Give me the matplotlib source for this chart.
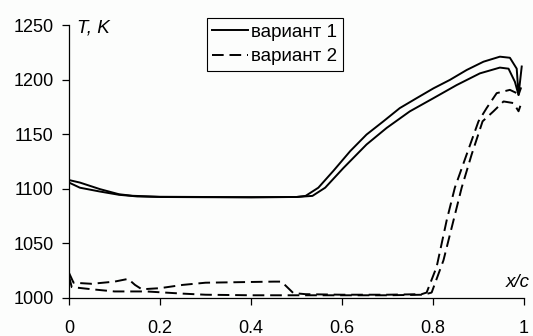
import matplotlib
matplotlib.use('Agg')
import matplotlib.pyplot as plt

# variant 1 (solid), two surfaces
x_v1_upper = [0.0, 0.024, 0.068, 0.11, 0.14, 0.2, 0.3, 0.4, 0.5, 0.52, 0.548, 0.581, 0.618,
              0.654, 0.691, 0.727, 0.764, 0.801, 0.837, 0.874, 0.911, 0.947, 0.969,
              0.984, 0.988, 0.995]
t_v1_upper = [1108, 1105.7, 1099.7, 1095, 1093.6, 1092.7, 1092.5, 1092.3, 1092.5, 1093.5, 1101,
              1116.4, 1134.5, 1149.7, 1161.8, 1173.9, 1183, 1192, 1199.7, 1208.8, 1216.4,
              1221, 1220, 1210, 1186, 1212]

x_v1_lower = [0.0, 0.024, 0.068, 0.11, 0.15, 0.2, 0.3, 0.4, 0.5, 0.535, 0.563, 0.603, 0.654,
              0.698, 0.749, 0.801, 0.852, 0.903, 0.947, 0.966, 0.98, 0.988, 0.993]
t_v1_lower = [1105.7, 1101, 1097.5, 1094.5, 1093, 1092.5, 1092.3, 1092.2, 1092.5, 1093.5, 1101,
              1119, 1140.6, 1155.7, 1170.9, 1183, 1195, 1205.7, 1211, 1210, 1198, 1186, 1192]

# variant 2 (dashed)
x_v2_a = [0.0, 0.01, 0.05, 0.1, 0.13, 0.145, 0.16, 0.2, 0.25, 0.3, 0.45, 0.467, 0.493, 0.52,
          0.6, 0.7, 0.775, 0.786, 0.808, 0.830, 0.848, 0.874, 0.900, 0.918, 0.94, 0.969,
          0.984]
t_v2_a = [1023, 1014, 1013, 1015, 1017.5, 1012, 1008, 1009, 1012, 1014, 1015, 1015, 1004.5, 1003.5,
          1003, 1003, 1003.5, 1005, 1028.5, 1071, 1101, 1131.5, 1161.8, 1174, 1187.6, 1190.6,
          1187.6]

x_v2_b = [0.0, 0.006, 0.05, 0.1, 0.17, 0.25, 0.3, 0.4, 0.5, 0.6, 0.7, 0.78, 0.797, 0.823,
          0.845, 0.863, 0.885, 0.909, 0.933, 0.955, 0.977, 0.988, 0.992]
t_v2_b = [1020, 1010, 1008, 1006, 1006, 1004, 1003, 1002.5, 1002.5, 1002.5, 1002.5, 1003, 1005,
          1034.5, 1071, 1101, 1131.5, 1161.8, 1171, 1180, 1178.5, 1171, 1176]

legend_labels = ['вариант 1', 'вариант 2']
x_ticks = [0, 0.2, 0.4, 0.6, 0.8, 1]
x_tick_labels = ['0', '0.2', '0.4', '0.6', '0.8', '1']
y_ticks = [1000, 1050, 1100, 1150, 1200, 1250]

plt.rcParams['font.family'] = ['Liberation Sans', 'DejaVu Sans']

fig = plt.figure(figsize=(5.33, 3.36), dpi=100)
fig.patch.set_facecolor('#fcfdfc')
ax = fig.add_axes([69 / 533, 1 - 298 / 336, 455 / 533, 273 / 336])
ax.set_facecolor('#fcfdfc')

dash = (0, (6, 3))
l1, = ax.plot(x_v1_upper, t_v1_upper, color='black', lw=1.4)
ax.plot(x_v1_lower, t_v1_lower, color='black', lw=1.4)
l2, = ax.plot(x_v2_a, t_v2_a, color='black', lw=1.4, linestyle=dash)
ax.plot(x_v2_b, t_v2_b, color='black', lw=1.4, linestyle=dash)

ax.set_xlim(0, 1)
ax.set_ylim(1000, 1250)
ax.set_xticks(x_ticks)
ax.set_xticklabels(x_tick_labels)
ax.set_yticks(y_ticks)

for side in ['top', 'right']:
    ax.spines[side].set_visible(False)
for side in ['left', 'bottom']:
    ax.spines[side].set_linewidth(0.9)
ax.tick_params(axis='x', direction='out', length=5, width=0.9, pad=11, labelsize=13)
ax.tick_params(axis='y', direction='out', length=5, width=0.9, pad=6, labelsize=13)

ax.text(0.018, 1247, 'T, K', style='italic', fontsize=13.5, va='center', ha='left')
ax.text(1.013, 1014.5, 'x/c', style='italic', fontsize=13.5, va='center', ha='right')

leg = ax.legend([l1, l2], legend_labels, loc='upper left', bbox_to_anchor=(0.303, 1.026),
                borderaxespad=0, fancybox=False, framealpha=1, edgecolor='black',
                fontsize=13.5, handlelength=1.9, handletextpad=0.15, labelspacing=0.4,
                borderpad=0.3)
leg.get_frame().set_linewidth(0.8)
leg.get_frame().set_facecolor('#fcfdfc')

fig.savefig('out.png', dpi=100, facecolor=fig.get_facecolor())
